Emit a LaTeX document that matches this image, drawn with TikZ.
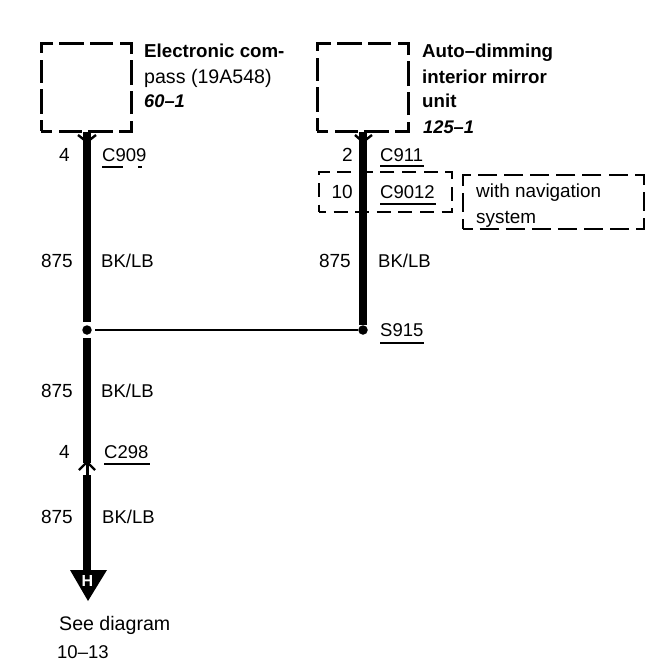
\documentclass[tikz,border=0pt]{standalone}
\usepackage{fontspec}
\setmainfont{Liberation Sans}
\usetikzlibrary{positioning}
\tikzset{
	lbl/.style={inner sep=0pt,anchor=base west,font=\fontsize{18.5}{20}\selectfont},
	lblr/.style={inner sep=0pt,anchor=base east,font=\fontsize{19}{20}\selectfont},
	big/.style={lbl,font=\fontsize{19.6}{20}\selectfont},
	notetext/.style={lbl,font=\fontsize{18.9}{20}\selectfont},
	titel/.style={lbl,font=\fontsize{18.7}{20}\selectfont\bfseries},
	ref/.style={lbl,font=\fontsize{18.3}{20}\selectfont\bfseries\itshape},
	unitbox/.style={draw,line width=3,dash pattern=on 22 off 7 on 23 off 6 on 25 off 6,dash phase=11,inner sep=0},
	optconnbox/.style={draw,line width=1.4,dash pattern=on 14 off 7.6,dash phase=7,inner sep=0},
	optnotebox/.style={draw,line width=1.4,dash pattern=on 19 off 7.1,dash phase=9.5,inner sep=0},
	harness/.style={line width=8.5},
	thinwire/.style={line width=1.6},
	chevron/.style={line width=2.4},
	splice/.style={circle,fill,inner sep=0,minimum size=9.5},
	ulin/.style={line width=1.2}
}
\begin{document}
\begin{tikzpicture}[x=1pt,y=-1pt]
	\useasboundingbox (0,0) rectangle (660,672);
	% boxes
	\node[unitbox,minimum width=90,minimum height=88] (compass) at (86,87) {};
	\node[unitbox,minimum width=91,minimum height=88] (mirror) at (362.5,87) {};
	\node[optconnbox,minimum width=133,minimum height=40] (optconn) at (385.5,192) {};
	\node[optnotebox,minimum width=181,minimum height=54] (optnote) at (553.5,202) {};
	% splices and free points
	\node[splice,outer sep=3.5] (spl) at (87,330) {};
	\node[splice] (spr) at (363,330) {};
	\coordinate (tipa) at (87,132);
	\coordinate (tipb) at (363,132);
	\coordinate (mid) at (87,463);
	\coordinate (low) at (87,475);
	% arrow
	\fill (70,570) -- (107,570) -- (88,601) -- cycle;
	\node[inner sep=0,text=white,font=\fontsize{16}{16}\selectfont\bfseries] (hh) at (87.5,581) {H};
	\coordinate (hend) at (87,571);
	% wires
	\draw[harness] (tipa) -- (spl);
	\draw[harness] (tipb) -- (spr);
	\draw[harness] (spl) -- (mid);
	\draw[line width=3] (mid) -- (low);
	\draw[harness] (low) -- (hend);
	\draw[thinwire] (spl) -- (spr);
	% chevrons
	\draw[chevron] (78,135) -- (87,142) -- (96,135);
	\draw[chevron] (355,135) -- (363,142) -- (372,135);
	\draw[chevron] (79,470) -- (87,462) -- (95,470);
	% left column
	\node[titel] (t1) at (144,57) {Electronic com-};
	\node[big] (t2) at (144,83) {pass (19A548)};
	\node[ref] (t3) at (144,107) {60--1};
	\node[lblr] (p1) at (70,161) {4};
	\node[lbl] (c1) at (102,161) {C909};
	\draw[ulin] (102,167) -- (123,167) (138,167) -- (142,167);
	\node[lblr] (w1) at (73,267) {875};
	\node[lbl] (b1) at (101,267) {BK/LB};
	\node[lblr] (w2) at (73,397) {875};
	\node[lbl] (b2) at (101,397) {BK/LB};
	\node[lblr] (p2) at (70,458) {4};
	\node[lbl] (c2) at (104,458) {C298};
	\draw[ulin] (104,464) -- (150,464);
	\node[lblr] (w3) at (73,523) {875};
	\node[lbl] (b3) at (102,523) {BK/LB};
	\node[big] (s1) at (59,630) {See diagram};
	\node[lbl] (s2) at (57,658) {10--13};
	% right column
	\node[titel] (r1) at (422,57) {Auto--dimming};
	\node[titel] (r2) at (422,83) {interior mirror};
	\node[titel] (r3) at (422,107) {unit};
	\node[ref] (r4) at (423,133) {125--1};
	\node[lblr] (p3) at (353,161) {2};
	\node[lbl] (c3) at (380,161) {C911};
	\draw[ulin] (380,166) -- (424,166);
	\node[lblr] (p4) at (353,198) {10};
	\node[lbl] (c4) at (380,198) {C9012};
	\draw[ulin] (380,204) -- (436,204);
	\node[lblr] (w4) at (351,267) {875};
	\node[lbl] (b4) at (378,267) {BK/LB};
	\node[lbl] (sp) at (380,336) {S915};
	\draw[ulin] (380,343) -- (424,343);
	\node[notetext] (n1) at (476,197) {with navigation};
	\node[notetext] (n2) at (476,223) {system};
\end{tikzpicture}
\end{document}
